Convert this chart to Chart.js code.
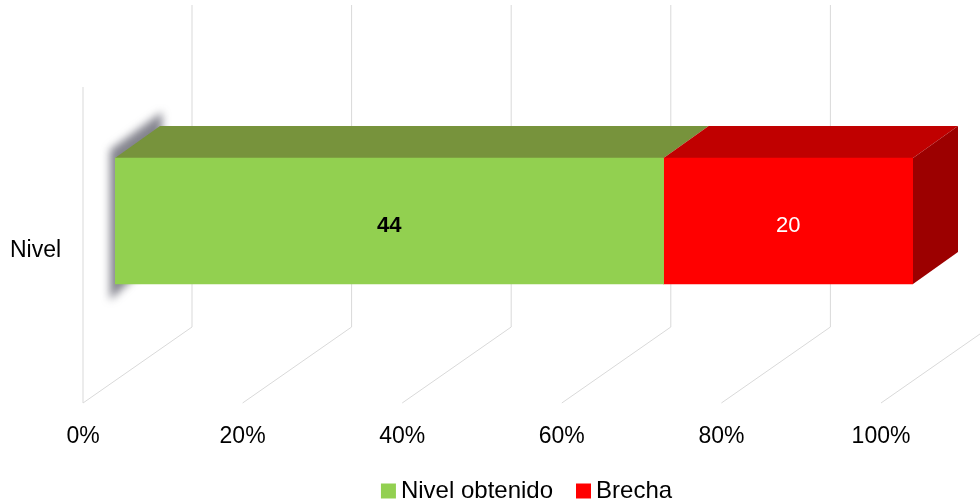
<!DOCTYPE html>
<html>
<head>
<meta charset="utf-8">
<script src="https://cdn.jsdelivr.net/npm/chart.js@4/dist/chart.umd.min.js"></script>
<style>
  html, body { margin: 0; padding: 0; background: #fff; }
  #chart { display: block; }
</style>
</head>
<body>
<canvas id="chart" width="980" height="504"></canvas>
<script>
// Values
const categories = ['Nivel'];
const seriesNames = ['Nivel obtenido', 'Brecha'];
const nivelObtenido = [44];
const brecha = [20];
const xTickStep = 20; // 0%, 20%, ... 100%

// 100% stacked: each bar is shown as its share of the category total
const totals = categories.map((_, i) => nivelObtenido[i] + brecha[i]);
const toShare = arr => arr.map((v, i) => v / totals[i] * 100);

const frontColors = ['#92d050', '#ff0000'];
const topColors = ['#77933c', '#c00000'];
const sideColor = '#9c0000';
const gridColor = '#d9d9d9';
const rawValues = [nivelObtenido, brecha];

// depth offsets in pixels, relative to the plane the bars' front faces sit in
const barDepth = { dx: 45, dy: -32 };
const frontWall = { dx: -32, dy: 23 };
const backWall = { dx: 77, dy: -53 };

const fakeDepthPlugin = {
    id: 'fakeDepth',
    beforeDatasetsDraw(chart) {
        const { ctx, chartArea, scales } = chart;
        const xs = scales.x;
        const bottom = chartArea.bottom;

        ctx.save();
        ctx.strokeStyle = gridColor;
        ctx.lineWidth = 1;
        for (let v = xs.min; v <= xs.max; v += xTickStep) {
            const px = xs.getPixelForValue(v);
            // floor line, front to back
            ctx.beginPath();
            ctx.moveTo(px + frontWall.dx, bottom + frontWall.dy);
            ctx.lineTo(px + backWall.dx, bottom + backWall.dy);
            ctx.stroke();
            // back wall line
            ctx.beginPath();
            ctx.moveTo(px + backWall.dx, bottom + backWall.dy);
            ctx.lineTo(px + backWall.dx, chartArea.top - 57);
            ctx.stroke();
        }
        // left wall edge
        const px0 = xs.getPixelForValue(xs.min);
        ctx.beginPath();
        ctx.moveTo(px0 + frontWall.dx, bottom + frontWall.dy);
        ctx.lineTo(px0 + frontWall.dx, chartArea.top + 25);
        ctx.stroke();
        ctx.restore();

        const metas = chart.getSortedVisibleDatasetMetas();
        metas.forEach((meta, di) => {
            meta.data.forEach(el => {
                const { x, base, y, height } = el.getProps(['x', 'base', 'y', 'height'], true);
                const left = Math.min(x, base), right = Math.max(x, base);
                const top = y - height / 2, bot = y + height / 2;
                const { dx, dy } = barDepth;

                ctx.save();
                if (di === 0) {
                    // soft grey shadow along the bar's left end
                    ctx.filter = 'blur(4px)';
                    ctx.globalAlpha = 0.7;
                    ctx.fillStyle = '#50505e';
                    ctx.beginPath();
                    ctx.moveTo(left - 5, top - 8);
                    ctx.lineTo(left + dx + 2, top + dy - 14);
                    ctx.lineTo(left + dx + 2, bot + dy);
                    ctx.lineTo(left - 5, bot + 16);
                    ctx.closePath();
                    ctx.fill();
                    ctx.filter = 'none';
                    ctx.globalAlpha = 1;
                }
                ctx.fillStyle = topColors[di];
                ctx.beginPath();
                ctx.moveTo(left, top);
                ctx.lineTo(right, top);
                ctx.lineTo(right + dx, top + dy);
                ctx.lineTo(left + dx, top + dy);
                ctx.closePath();
                ctx.fill();
                if (di === metas.length - 1) {
                    ctx.fillStyle = sideColor;
                    ctx.beginPath();
                    ctx.moveTo(right, top);
                    ctx.lineTo(right + dx, top + dy);
                    ctx.lineTo(right + dx, bot + dy);
                    ctx.lineTo(right, bot);
                    ctx.closePath();
                    ctx.fill();
                }
                ctx.restore();
            });
        });
    },
    afterDatasetsDraw(chart) {
        const { ctx } = chart;
        chart.getSortedVisibleDatasetMetas().forEach((meta, di) => {
            meta.data.forEach((el, i) => {
                const { x, base, y } = el.getProps(['x', 'base', 'y'], true);
                ctx.save();
                ctx.font = (di === 0 ? 'bold ' : '') + '22px "Liberation Sans", Arial, sans-serif';
                ctx.fillStyle = di === 0 ? '#000' : '#fff';
                ctx.textAlign = 'center';
                ctx.textBaseline = 'middle';
                ctx.fillText(String(rawValues[di][i]), (x + base) / 2, y + 5);
                ctx.restore();
            });
        });
    }
};

Chart.defaults.font.family = '"Liberation Sans", Arial, sans-serif';
Chart.defaults.font.size = 23;
Chart.defaults.color = '#000';

new Chart(document.getElementById('chart'), {
    type: 'bar',
    data: {
        labels: categories,
        datasets: [
            {
                label: seriesNames[0],
                data: toShare(nivelObtenido),
                backgroundColor: frontColors[0],
                borderWidth: 0
            },
            {
                label: seriesNames[1],
                data: toShare(brecha),
                backgroundColor: frontColors[1],
                borderWidth: 0
            }
        ]
    },
    options: {
        indexAxis: 'y',
        responsive: false,
        animation: false,
        devicePixelRatio: 1,
        layout: { padding: { top: 62, right: 0, left: 80, bottom: 0 } },
        datasets: { bar: { barThickness: 126 } },
        scales: {
            x: {
                stacked: true,
                min: 0,
                max: 100,
                grid: { display: false },
                border: { display: false },
                ticks: {
                    stepSize: xTickStep,
                    padding: 35,
                    labelOffset: frontWall.dx,
                    callback: v => v + '%'
                },
                afterFit: s => { s.height = 69; }
            },
            y: {
                stacked: true,
                grid: { display: false },
                border: { display: false },
                ticks: { mirror: true, padding: -105, labelOffset: 30 },
                afterFit: s => { s.width = 35; }
            },
            // empty strip on the right so the plot stops short of the edge
            yRight: {
                type: 'category',
                position: 'right',
                grid: { display: false },
                border: { display: false },
                ticks: { display: false },
                afterFit: s => { s.width = 67; }
            }
        },
        plugins: {
            legend: {
                position: 'bottom',
                maxHeight: 55,
                labels: {
                    font: { size: 24 },
                    usePointStyle: true,
                    pointStyle: 'rect',
                    boxWidth: 1,
                    boxHeight: 15,
                    padding: 30
                }
            },
            tooltip: { enabled: false }
        }
    },
    plugins: [fakeDepthPlugin]
});
</script>
</body>
</html>
